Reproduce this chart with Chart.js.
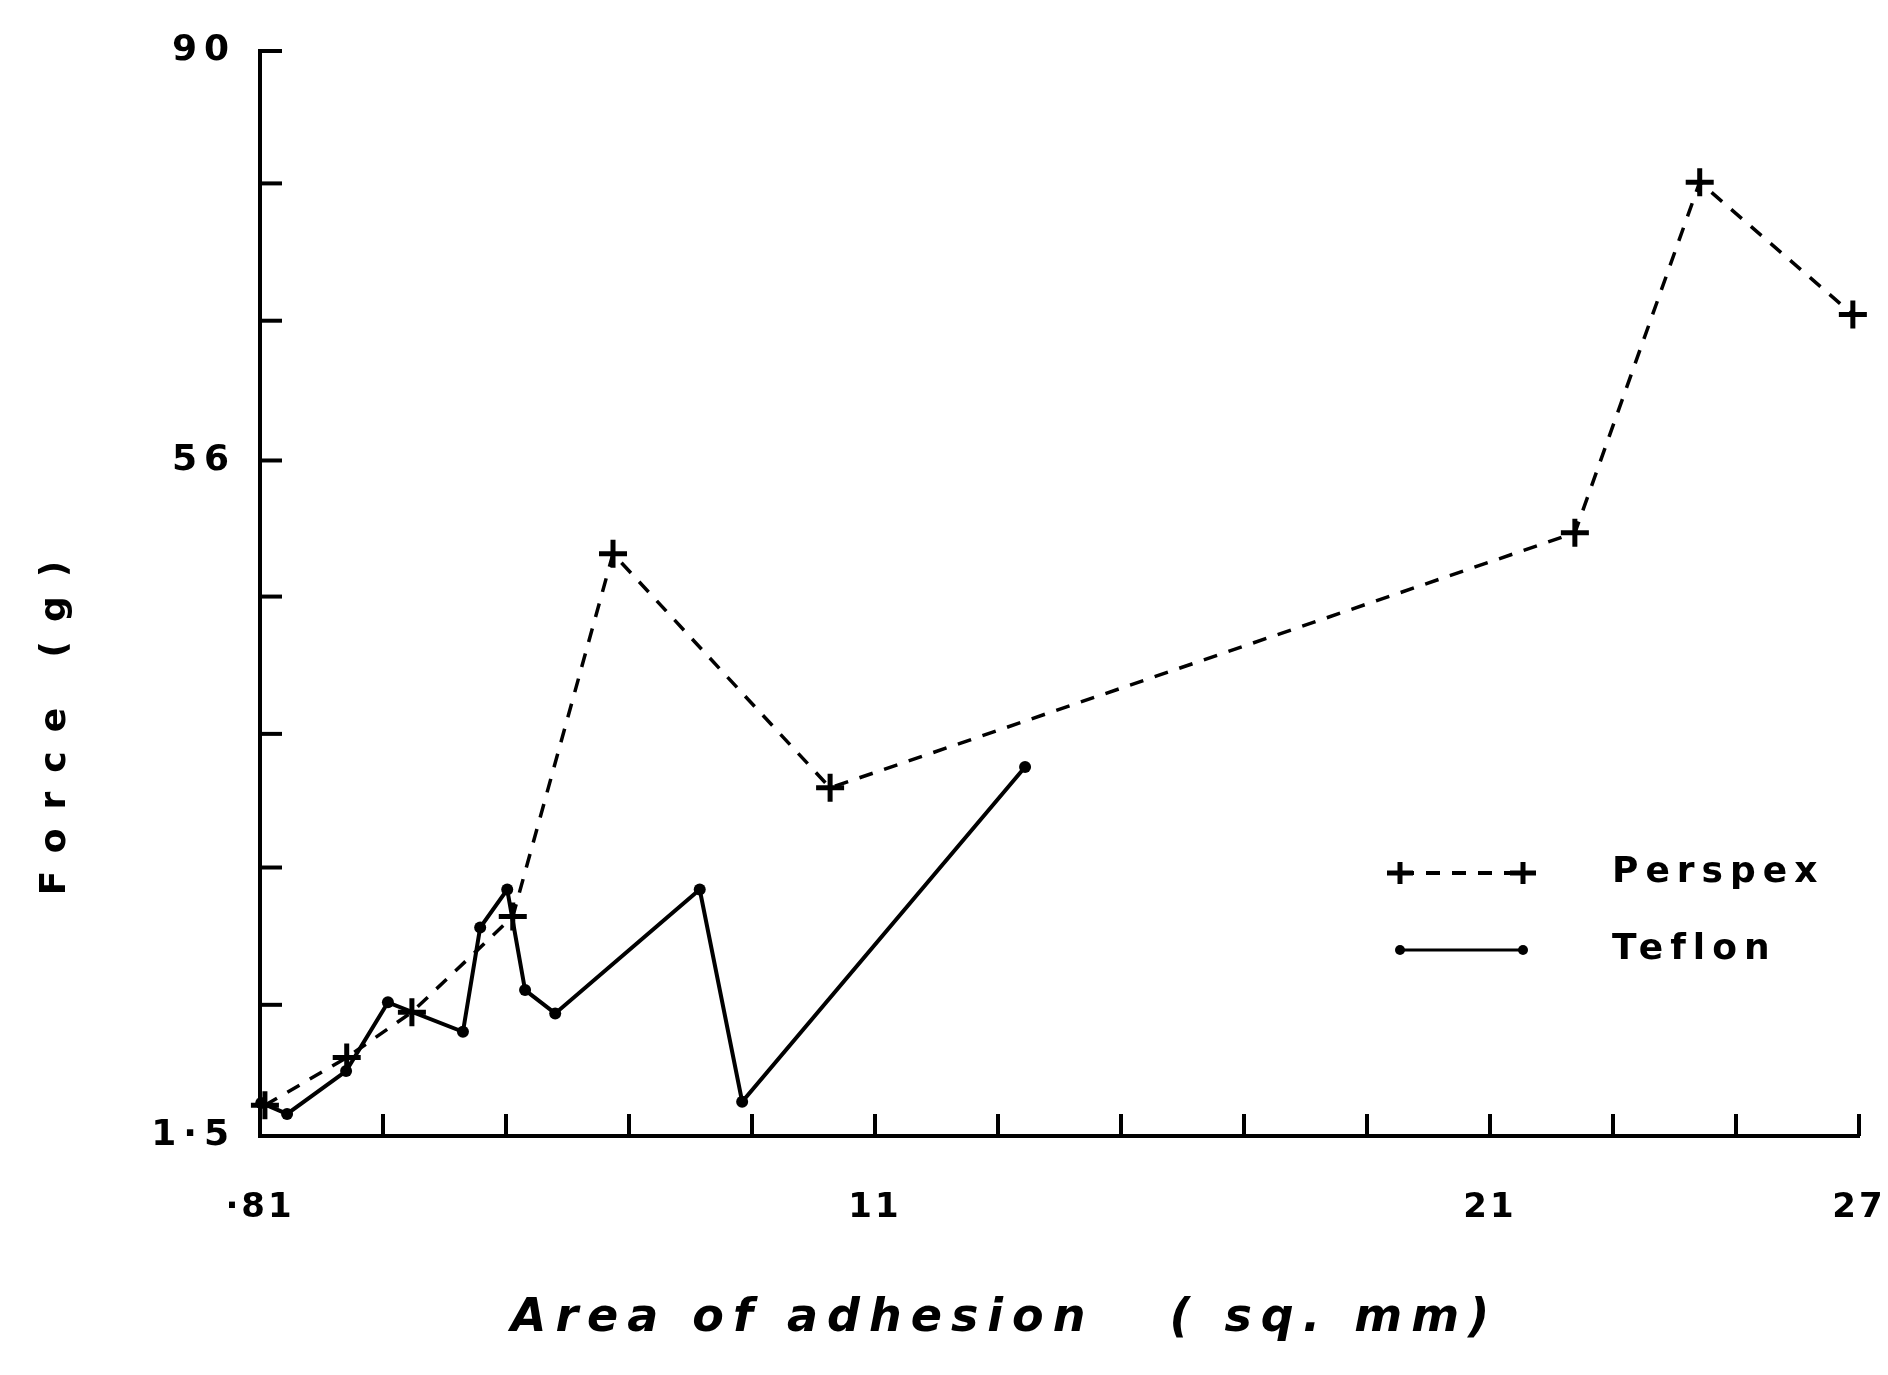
<!DOCTYPE html>
<html><head><meta charset="utf-8">
<script src="https://cdn.jsdelivr.net/npm/chart.js@4.4.1/dist/chart.umd.min.js"></script>
<style>html,body{margin:0;padding:0;background:#fff;} #wrap{width:1888px;height:1375px;position:relative;}</style>
</head><body><div id="wrap"><canvas id="c"></canvas></div>
<script>
// ---- data ----
const seriesNames = ['Perspex', 'Teflon'];
const perspexArea  = [1.08, 2.41, 3.47, 5.11, 6.74, 10.27, 22.38, 24.41, 26.9];
const perspexForce = [4.0, 7.9, 11.6, 19.4, 49.0, 29.9, 50.7, 79.3, 68.5];
const teflonArea   = [1.02, 1.44, 2.4, 3.08, 4.30, 4.58, 5.02, 5.31, 5.80, 8.15, 8.84, 13.44];
const teflonForce  = [4.2, 3.3, 6.8, 12.4, 10.0, 18.5, 21.6, 13.4, 11.5, 21.6, 4.3, 31.6];
const xTickValues = [1, 3, 5, 7, 9, 11, 13, 15, 17, 19, 21, 23, 25, 27];
const xTickLabels = ['·81', '', '', '', '', '11', '', '', '', '', '21', '', '', '27'];
const yTickValues = [1.5, 12.2, 23.4, 34.3, 45.5, 56.6, 68.0, 79.2, 90];
const yTickLabels = ['1·5', '', '', '', '', '56', '', '', '90'];
const xTitle = 'Area of adhesion   ( sq. mm)';
const yTitle = 'Force (g)';

const FONT = "'DejaVu Sans', sans-serif";

function wrapDraw(scale, method, spacing, dx, dy) {
  const key = '_wrapped_' + method;
  if (scale[key]) return;
  const orig = scale[method].bind(scale);
  scale[method] = function (...args) {
    const ctx = this.ctx;
    ctx.save();
    ctx.letterSpacing = spacing + 'px';
    ctx.translate(dx, dy);
    orig(...args);
    ctx.restore();
  };
  scale[key] = true;
}

const textStyler = {
  id: 'textStyler',
  beforeDraw(chart) {
    const { x, y } = chart.scales;
    wrapDraw(x, 'drawLabels', 3, 0, 0);
    wrapDraw(x, 'drawTitle', 9, -55, 0);
    wrapDraw(y, 'drawLabels', 7, 0, 0);
    wrapDraw(y, 'drawTitle', 19, 0, 125);
  }
};

const inwardTicks = {
  id: 'inwardTicks',
  beforeDatasetsDraw(chart) {
    const { ctx, chartArea: ca, scales: { x, y } } = chart;
    ctx.save();
    ctx.strokeStyle = '#000';
    ctx.lineWidth = 4;
    x.ticks.forEach(t => {
      const px = x.getPixelForValue(t.value);
      ctx.beginPath(); ctx.moveTo(px, ca.bottom); ctx.lineTo(px, ca.bottom - 22); ctx.stroke();
    });
    y.ticks.forEach(t => {
      const py = y.getPixelForValue(t.value);
      ctx.beginPath(); ctx.moveTo(ca.left, py); ctx.lineTo(ca.left + 22, py); ctx.stroke();
    });
    ctx.restore();
  }
};

const legendNote = {
  id: 'legendNote',
  afterDraw(chart) {
    const { ctx, chartArea: ca } = chart;
    const x0 = ca.left + 1140, x1 = ca.left + 1263, tx = ca.left + 1352;
    const rows = [ca.top + 822, ca.top + 899];
    ctx.save();
    ctx.strokeStyle = '#000'; ctx.fillStyle = '#000';
    // Perspex sample
    let yy = rows[0];
    ctx.lineWidth = 4; ctx.setLineDash([14, 12]);
    ctx.beginPath(); ctx.moveTo(x0, yy); ctx.lineTo(x1, yy); ctx.stroke();
    ctx.setLineDash([]); ctx.lineWidth = 5;
    [x0, x1].forEach(px => {
      ctx.beginPath(); ctx.moveTo(px - 13, yy); ctx.lineTo(px + 13, yy);
      ctx.moveTo(px, yy - 11); ctx.lineTo(px, yy + 11); ctx.stroke();
    });
    // Teflon sample
    yy = rows[1];
    ctx.lineWidth = 3;
    ctx.beginPath(); ctx.moveTo(x0, yy); ctx.lineTo(x1, yy); ctx.stroke();
    [x0, x1].forEach(px => { ctx.beginPath(); ctx.arc(px, yy, 5, 0, Math.PI * 2); ctx.fill(); });
    // labels
    ctx.font = 'bold 36px ' + FONT;
    ctx.letterSpacing = '7px';
    ctx.textBaseline = 'middle'; ctx.textAlign = 'left';
    chart.data.datasets.forEach((ds, i) => ctx.fillText(ds.label, tx, rows[i]));
    ctx.restore();
  }
};

new Chart(document.getElementById('c'), {
  type: 'line',
  data: {
    datasets: [
      {
        label: seriesNames[0],
        data: perspexArea.map((a, i) => ({ x: a, y: perspexForce[i] })),
        borderColor: '#000', backgroundColor: '#000',
        borderWidth: 3.5, borderDash: [14, 12],
        pointStyle: 'cross', pointRadius: 14, pointBorderWidth: 5,
        pointBorderColor: '#000', tension: 0, clip: false
      },
      {
        label: seriesNames[1],
        data: teflonArea.map((a, i) => ({ x: a, y: teflonForce[i] })),
        borderColor: '#000', backgroundColor: '#000',
        borderWidth: 4, pointStyle: 'circle', pointRadius: 6,
        pointBackgroundColor: '#000', pointBorderWidth: 0, tension: 0, clip: false
      }
    ]
  },
  options: {
    animation: false,
    responsive: true,
    maintainAspectRatio: false,
    layout: { padding: { top: 51, right: 29, bottom: 0, left: 0 } },
    plugins: { legend: { display: false }, tooltip: { enabled: false } },
    scales: {
      x: {
        type: 'linear', min: 1, max: 27, position: 'bottom',
        afterBuildTicks: s => { s.ticks = xTickValues.map(v => ({ value: v })); },
        afterFit: s => { s.height = 239; },
        grid: { display: true, drawOnChartArea: false, drawTicks: true, tickLength: 52, color: 'rgba(0,0,0,0)' },
        border: { display: true, color: '#000', width: 4 },
        ticks: {
          autoSkip: false, maxRotation: 0, color: '#000', padding: 0,
          font: { family: FONT, size: 34, weight: 'bold' },
          callback: (v, i) => xTickLabels[i]
        },
        title: {
          display: true, text: xTitle, color: '#000',
          font: { family: FONT, size: 46, weight: 'bold', style: 'italic' },
          padding: { top: 0, bottom: 28 }
        }
      },
      y: {
        type: 'linear', min: 1.5, max: 90,
        afterBuildTicks: s => { s.ticks = yTickValues.map(v => ({ value: v })); },
        afterFit: s => { s.width = 260; },
        grid: { display: true, drawOnChartArea: false, drawTicks: true, tickLength: 24, color: 'rgba(0,0,0,0)' },
        border: { display: true, color: '#000', width: 4 },
        ticks: {
          autoSkip: false, color: '#000', padding: 0,
          font: { family: FONT, size: 36, weight: 'bold' },
          callback: (v, i) => yTickLabels[i]
        },
        title: {
          display: true, text: yTitle, color: '#000',
          font: { family: FONT, size: 36, weight: 'bold' },
          padding: { top: 34, bottom: 0 }
        }
      }
    }
  },
  plugins: [textStyler, inwardTicks, legendNote]
});
</script>
</body></html>
